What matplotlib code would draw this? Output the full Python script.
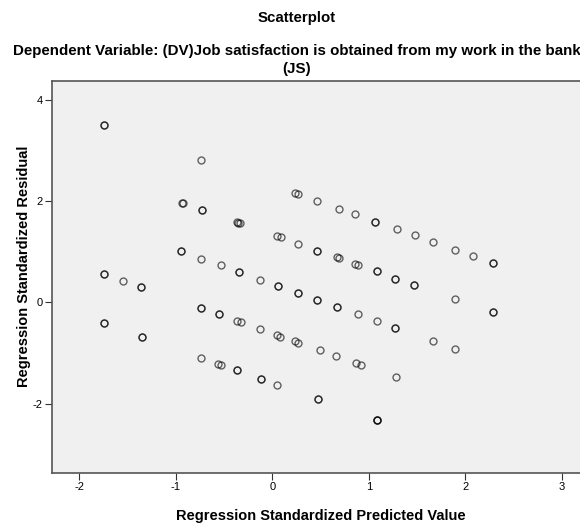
import matplotlib.pyplot as plt
import matplotlib

matplotlib.rcParams['font.family'] = ['Liberation Sans', 'DejaVu Sans']
matplotlib.rcParams['axes.unicode_minus'] = False

# regression standardized predicted value (x) and residual (y), one entry per case
predicted = [
    -1.744, -1.744, -0.739, 0.235, 0.27, 0.46, 0.694, 0.854, 1.067, 1.067,
    1.29, 1.482, 1.665, 1.89, 2.08, 2.287, 2.287,
    -0.939, -0.922, -0.732, -0.732, -0.363, -0.335, -0.35, 0.052, 0.087,
    0.27, 0.466, 0.466, 0.667, 0.691, 0.857, 0.885, 1.082, 1.082,
    1.275, 1.275, 1.47, 1.47, 1.89, 2.284, 2.284,
    -0.949, -0.949, -0.739, -0.532, -0.345, -0.345, -0.127, 0.056, 0.056,
    0.263, 0.263, 0.466, 0.466, 0.674, 0.674, 0.885, 1.088, 1.275, 1.275,
    1.669, 1.893,
    -1.744, -1.744, -1.54, -1.36, -1.36, -0.739, -0.739, -0.549, -0.549,
    -0.363, -0.324, -0.127, 0.052, 0.08, 0.235, 0.27, 0.49, 0.66,
    0.867, 0.919, 1.278,
    -1.744, -1.744, -1.353, -1.353, -0.736, -0.56, -0.532, -0.363, -0.363,
    -0.12, -0.12, 0.052, 0.477, 0.477, 1.082, 1.082, 1.082,
]
residual = [
    3.50, 3.50, 2.82, 2.16, 2.135, 2.01, 1.85, 1.74, 1.59, 1.59,
    1.44, 1.32, 1.19, 1.04, 0.915, 0.77, 0.77,
    1.97, 1.96, 1.83, 1.83, 1.58, 1.56, 1.57, 1.30, 1.28,
    1.16, 1.02, 1.02, 0.895, 0.867, 0.76, 0.74, 0.62, 0.62,
    0.47, 0.47, 0.35, 0.35, 0.063, -0.20, -0.20,
    1.006, 1.006, 0.86, 0.73, 0.60, 0.60, 0.446, 0.33, 0.33,
    0.18, 0.18, 0.05, 0.05, -0.09, -0.09, -0.235, -0.37, -0.505, -0.505,
    -0.77, -0.915,
    0.56, 0.56, 0.426, 0.307, 0.307, -0.115, -0.115, -0.24, -0.24,
    -0.366, -0.39, -0.53, -0.65, -0.68, -0.77, -0.80, -0.94, -1.06,
    -1.20, -1.24, -1.475,
    -0.41, -0.41, -0.68, -0.68, -1.09, -1.21, -1.24, -1.34, -1.34,
    -1.51, -1.51, -1.63, -1.91, -1.91, -2.33, -2.33, -2.33,
]

x_ticks = [-2, -1, 0, 1, 2, 3]
y_ticks = [-2, 0, 2, 4]

W, H = 580, 523
fig = plt.figure(figsize=(W / 100, H / 100), dpi=100, facecolor='white')
ax = fig.add_axes([52 / W, 1 - 473 / H, 539 / W, 392 / H])
ax.set_facecolor('#f0f0f0')

ax.plot(predicted, residual, 'o', markersize=5.0, markerfacecolor='none',
        markeredgecolor='black', markeredgewidth=1.0, alpha=0.6, linestyle='none')

ax.set_xlim(-2.28, 3.3)
ax.set_ylim(-3.37, 4.37)
ax.set_xticks(x_ticks)
ax.set_yticks(y_ticks)
ax.tick_params(labelsize=8, length=5, width=0.8, color='#333333', pad=1.5)
for s in ax.spines.values():
    s.set_color('#555555')
    s.set_linewidth(1.2)

fig.text(321 / W, 1 - 520 / H, 'Regression Standardized Predicted Value',
         ha='center', va='baseline', fontsize=10.5, fontweight='bold')
fig.text(24 / W, 1 - 266.5 / H, 'Regression Standardized Residual',
         ha='center', va='center', rotation=90, fontsize=10.5, fontweight='bold')

fig.text(297 / W, 1 - 22 / H, 'Scatterplot', ha='center', va='baseline',
         fontsize=10.8, fontweight='bold')
fig.text(297 / W, 1 - 55 / H,
         'Dependent Variable: (DV)Job satisfaction is obtained from my work in the bank',
         ha='center', va='baseline', fontsize=10.9, fontweight='bold')
fig.text(297 / W, 1 - 73 / H, '(JS)', ha='center', va='baseline',
         fontsize=10.9, fontweight='bold')

fig.savefig('out.png', dpi=100)
